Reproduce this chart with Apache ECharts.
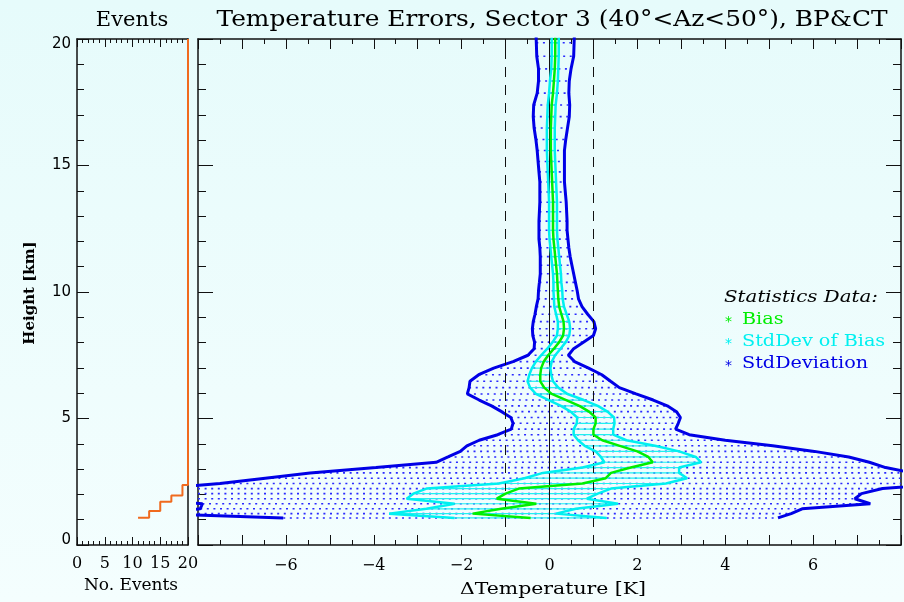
<!DOCTYPE html>
<html><head><meta charset="utf-8">
<script src="https://cdn.jsdelivr.net/npm/echarts@6/dist/echarts.min.js"></script>
<style>html,body{margin:0;padding:0;background:#eefcfc}#c{width:904px;height:602px}</style>
</head><body><div id="c"></div>
<script>
// ---- data ----
const heights = [20.35,19.85,19.32,18.82,18.34,17.86,17.39,16.93,16.48,16.03,15.59,15.16,14.75,14.35,13.95,13.55,
  13.17,12.80,12.44,12.09,11.75,11.40,11.06,10.72,10.38,10.05,9.73,9.42,9.12,8.83,8.55,8.28,8.02,7.76,7.50,7.25,
  6.99,6.73,6.47,6.22,5.97,5.73,5.50,5.27,5.04,4.81,4.58,4.36,4.14,3.92,3.70,3.48,3.27,3.06,2.85,2.64,2.43,2.23,
  2.03,1.83,1.63,1.43,1.24,1.07];
const bias = [0.13,0.13,0.13,0.12,0.10,0.08,0.05,0.04,0.03,0.03,0.03,0.04,0.05,0.06,0.07,0.08,
  0.08,0.08,0.08,0.09,0.11,0.13,0.15,0.17,0.18,0.19,0.20,0.22,0.27,0.32,0.33,0.31,0.22,0.10,-0.03,-0.13,
  -0.19,-0.21,-0.21,-0.12,0.05,0.38,0.68,0.90,1.05,1.05,1.00,1.00,1.20,1.60,2.00,2.25,2.35,1.85,1.40,1.28,0.75,-0.70,
  -1.00,-1.20,-0.30,-1.10,-1.75,-0.43];
const stdDev = [0.44,0.43,0.42,0.37,0.35,0.36,0.41,0.41,0.38,0.34,0.31,0.30,0.29,0.28,0.29,0.30,
  0.31,0.32,0.32,0.33,0.33,0.34,0.36,0.38,0.41,0.44,0.46,0.52,0.60,0.69,0.72,0.69,0.56,0.45,0.46,0.70,
  1.08,1.40,1.60,1.71,1.92,1.98,2.00,1.99,1.93,1.88,1.87,2.18,2.80,3.48,4.03,4.56,4.93,5.80,6.85,7.75,8.25,8.28,
  8.10,8.15,7.60,6.85,7.25,5.63];
const sdBias = [0.08,0.08,0.08,0.08,0.09,0.09,0.09,0.09,0.09,0.09,0.09,0.09,0.09,0.09,0.09,0.09,
  0.09,0.09,0.09,0.09,0.09,0.09,0.09,0.09,0.09,0.10,0.10,0.11,0.12,0.13,0.14,0.14,0.15,0.15,0.16,0.18,
  0.21,0.25,0.29,0.32,0.36,0.40,0.42,0.42,0.42,0.43,0.45,0.45,0.55,0.80,0.95,1.08,1.10,1.10,1.55,1.85,1.90,2.10,
  2.10,2.05,1.86,1.70,1.90,1.73];
const eventCounts = [11,13,15,17,19,20];
const eventHeights = [1.08,1.34,1.71,1.96,2.37,20];
const refLines = [-1,0,1];
const eventTicks = [0,5,10,15,20];
const tempTicks = [-6,-4,-2,0,2,4,6];
const heightTicks = [0,5,10,15,20];

// ---- styles ----
const SERIF = 'DejaVu Serif';
const C_GREEN = '#00ee00', C_CYAN = '#00f0f0', C_BLUE = '#0000e6', C_ORANGE = '#f06a1e';
const axisLine = {show:true, onZero:false, lineStyle:{color:'#111', width:1.5}};

const lowerStd = heights.map((h,i)=>[bias[i]-stdDev[i], h]);
const upperStd = heights.map((h,i)=>[bias[i]+stdDev[i], h]);
const lowerSdb = heights.map((h,i)=>[bias[i]-sdBias[i], h]);
const upperSdb = heights.map((h,i)=>[bias[i]+sdBias[i], h]);
const biasLine = heights.map((h,i)=>[bias[i], h]);

function hatch(lo, hi, style) {
  return {
    type:'custom', xAxisIndex:2, yAxisIndex:2, clip:true, silent:true,
    data: heights.map((h,i)=>[lo[i][0], hi[i][0], h]),
    encode:{x:[0,1], y:2},
    renderItem(params, api) {
      if (api.value(2) > 20) return null;
      const a = Math.max(-8, Math.min(8, api.value(0)));
      const b = Math.max(-8, Math.min(8, api.value(1)));
      const p1 = api.coord([a, api.value(2)]);
      const p2 = api.coord([b, api.value(2)]);
      return {type:'line', shape:{x1:p1[0], y1:p1[1], x2:p2[0], y2:p2[1]}, style};
    }
  };
}
function curve(data, color, width, z) {
  return {type:'line', xAxisIndex:2, yAxisIndex:2, data, showSymbol:false, symbol:'none',
    lineStyle:{color, width}, clip:true, z, silent:true, animation:false};
}
function label(text, x, y, font, fill, opts) {
  return Object.assign({type:'text', x, y, style:Object.assign({text, font, fill, textVerticalAlign:'middle'}, (opts&&opts.style)||{})},
    opts ? {scaleX:opts.scaleX||1, rotation:opts.rotation||0} : {});
}
const yLabelFont = {fontFamily:'DejaVu Sans', fontSize:15, color:'#000'};

const chart = echarts.init(document.getElementById('c'), null, {renderer:'canvas'});
chart.setOption({
  animation:false,
  backgroundColor:{type:'linear', x:0, y:0, x2:0, y2:1, colorStops:[{offset:0,color:'#e6fbfb'},{offset:1,color:'#f4fefe'}]},
  grid:[
    {left:77, top:39, width:111, height:506},
    {left:198, top:39, width:709, height:506}
  ],
  xAxis:[
    {gridIndex:0, type:'value', min:0, max:20, interval:5, position:'bottom', axisLine,
      axisTick:{inside:true, length:8, lineStyle:{color:'#111'}}, minorTick:{show:true, splitNumber:5, length:4, lineStyle:{color:'#111'}},
      splitLine:{show:false},
      axisLabel:{fontFamily:SERIF, fontSize:16, color:'#000', margin:11, showMinLabel:true, showMaxLabel:true,
        formatter:v=>eventTicks.includes(v)?String(v):''}},
    {gridIndex:0, type:'value', min:0, max:20, interval:5, position:'top', axisLine,
      axisTick:{inside:true, length:8, lineStyle:{color:'#111'}}, minorTick:{show:true, splitNumber:5, length:4, lineStyle:{color:'#111'}},
      splitLine:{show:false}, axisLabel:{show:false}},
    {gridIndex:1, type:'value', min:-8, max:8, interval:1, position:'bottom', axisLine,
      axisTick:{inside:true, length:10, lineStyle:{color:'#111'}}, minorTick:{show:true, splitNumber:2, length:5, lineStyle:{color:'#111'}},
      splitLine:{show:false},
      axisLabel:{fontFamily:SERIF, fontSize:16, color:'#000', margin:13, showMinLabel:true, showMaxLabel:true,
        formatter:v=>tempTicks.includes(v)?(v<0?'\u2212'+(-v):String(v)):''}},
    {gridIndex:1, type:'value', min:-8, max:8, interval:1, position:'top', axisLine,
      axisTick:{inside:true, length:10, lineStyle:{color:'#111'}}, minorTick:{show:true, splitNumber:2, length:5, lineStyle:{color:'#111'}},
      splitLine:{show:false}, axisLabel:{show:false}}
  ],
  yAxis:[
    {gridIndex:0, type:'value', min:0, max:20, interval:5, position:'left', axisLine,
      axisTick:{inside:true, length:12, lineStyle:{color:'#111'}}, minorTick:{show:true, splitNumber:5, length:7, lineStyle:{color:'#111'}},
      splitLine:{show:false},
      axisLabel:Object.assign({margin:6, showMinLabel:true, showMaxLabel:true,
        formatter:v=>!heightTicks.includes(v)?'':(v===20?'{t|20}':(v===0?'{b|0}':String(v))),
        rich:{t:Object.assign({padding:[10,0,0,0]}, yLabelFont), b:Object.assign({padding:[0,0,10,0]}, yLabelFont)}}, yLabelFont)},
    {gridIndex:0, type:'value', min:0, max:20, interval:5, position:'right', axisLine,
      axisTick:{show:false}, splitLine:{show:false}, axisLabel:{show:false}},
    {gridIndex:1, type:'value', min:0, max:20, interval:5, position:'left', axisLine,
      axisTick:{inside:true, length:15, lineStyle:{color:'#111'}}, minorTick:{show:true, splitNumber:5, length:8, lineStyle:{color:'#111'}},
      splitLine:{show:false}, axisLabel:{show:false}},
    {gridIndex:1, type:'value', min:0, max:20, interval:5, position:'right', axisLine,
      axisTick:{inside:true, length:15, lineStyle:{color:'#111'}}, minorTick:{show:true, splitNumber:5, length:8, lineStyle:{color:'#111'}},
      splitLine:{show:false}, axisLabel:{show:false}}
  ],
  series:[
    Object.assign(hatch(lowerStd, upperStd, {stroke:'#2a2aff', lineWidth:1.6, lineDash:[2,4.6]}), {z:1}),
    Object.assign(hatch(lowerSdb, upperSdb, {stroke:'#20f0f0', lineWidth:1.2}), {z:2}),
    {type:'line', xAxisIndex:2, yAxisIndex:2, data:[], z:3, silent:true,
      markLine:{silent:true, symbol:['none','none'], label:{show:false}, animation:false,
        data: refLines.map(v=>({xAxis:v, lineStyle:{color:'#111', width:1, type: v===0?'solid':[10,8]}}))}},
    curve(lowerStd, C_BLUE, 3, 4),
    curve(upperStd, C_BLUE, 3, 4),
    curve(lowerSdb, C_CYAN, 2.5, 5),
    curve(upperSdb, C_CYAN, 2.5, 5),
    curve(biasLine, C_GREEN, 2.5, 6),
    {type:'line', xAxisIndex:0, yAxisIndex:0, step:'end', clip:false, showSymbol:false, symbol:'none',
      data: eventCounts.map((c,i)=>[c, eventHeights[i]]), lineStyle:{color:C_ORANGE, width:2}, z:5, silent:true}
  ],
  graphic:[
    label('Events', 132, 21, '21px "DejaVu Serif"', '#000', {style:{textAlign:'center'}}),
    label('Temperature Errors, Sector 3 (40\u00b0<Az<50\u00b0), BP&CT', 552, 20, '22px "DejaVu Serif"', '#000', {style:{textAlign:'center'}, scaleX:1.13}),
    label('Height [km]', 30, 293, 'bold 15px "DejaVu Serif"', '#000', {style:{textAlign:'center'}, rotation:Math.PI/2}),
    label('No. Events', 131, 586, '17px "DejaVu Serif"', '#000', {style:{textAlign:'center'}}),
    label('\u0394Temperature [K]', 553, 590, '17px "DejaVu Serif"', '#000', {style:{textAlign:'center'}, scaleX:1.2}),
    label('Statistics Data:', 724, 298, 'italic 16px "DejaVu Serif"', '#000', {scaleX:1.24}),
    label('*', 725, 322, '14px "DejaVu Sans"', C_GREEN),
    label('Bias', 742, 320, '16px "DejaVu Serif"', C_GREEN, {scaleX:1.2}),
    label('*', 725, 344, '14px "DejaVu Sans"', C_CYAN),
    label('StdDev of Bias', 742, 342, '16px "DejaVu Serif"', C_CYAN, {scaleX:1.2}),
    label('*', 725, 366, '14px "DejaVu Sans"', C_BLUE),
    label('StdDeviation', 742, 364, '16px "DejaVu Serif"', C_BLUE, {scaleX:1.2})
  ]
});
</script></body></html>
